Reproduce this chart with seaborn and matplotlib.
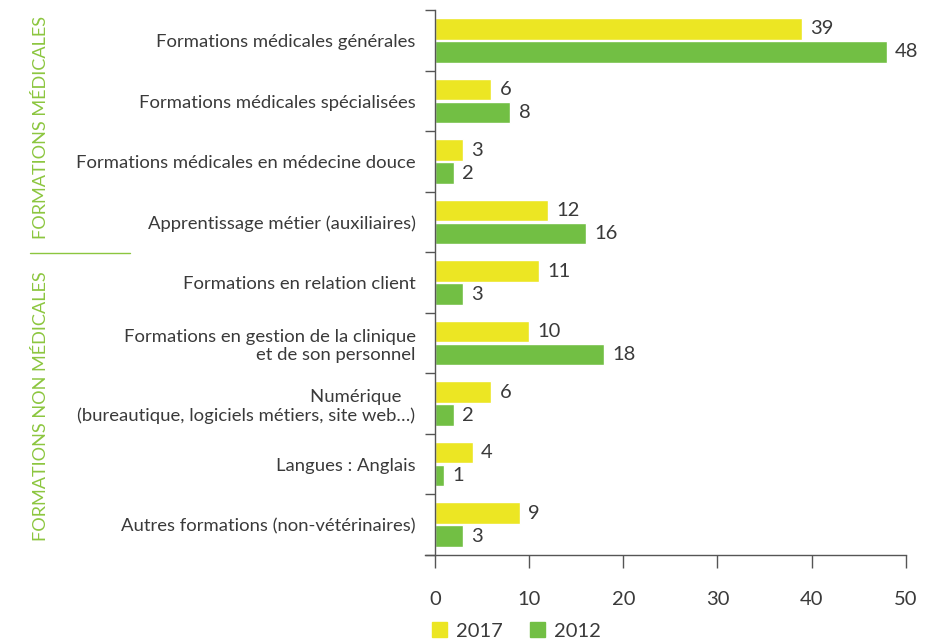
import matplotlib
matplotlib.use("Agg")
import matplotlib.pyplot as plt
import matplotlib.patches as mpatches
import matplotlib.lines as mlines
import seaborn as sns
import pandas as pd

categories = [
    "Formations médicales générales",
    "Formations médicales spécialisées",
    "Formations médicales en médecine douce",
    "Apprentissage métier (auxiliaires)",
    "Formations en relation client",
    "Formations en gestion de la clinique\net de son personnel",
    "Numérique   \n(bureautique, logiciels métiers, site web…)",
    "Langues : Anglais",
    "Autres formations (non-vétérinaires)",
]
values_2017 = [39, 6, 3, 12, 11, 10, 6, 4, 9]
values_2012 = [48, 8, 2, 16, 3, 18, 2, 1, 3]
years = ["2017", "2012"]
x_ticks = [0, 10, 20, 30, 40, 50]

YELLOW = "#ECE623"
GREEN = "#72BF44"
LABEL_GREEN = "#8CC63F"
TEXT = "#3a3a3a"
AXIS = "#555555"

df = pd.DataFrame({
    "cat": categories * 2,
    "val": values_2017 + values_2012,
    "year": [years[0]] * len(categories) + [years[1]] * len(categories),
})

sns.set_theme(style="white")
plt.rcParams["font.family"] = ["Lato", "DejaVu Sans"]

fig = plt.figure(figsize=(9.26, 6.4), dpi=100)
ax = fig.add_axes([0.459, 0.133, 0.519, 0.851])

sns.barplot(data=df, y="cat", x="val", hue="year", orient="h",
            palette=[YELLOW, GREEN], width=0.76, gap=0.06,
            saturation=1, legend=False, ax=ax)

ax.set_xlim(-1.06, 50)
ax.set_ylim(len(categories) - 0.5, -0.5)
ax.set_xlabel("")
ax.set_ylabel("")

for s in ["top", "right"]:
    ax.spines[s].set_visible(False)
for s in ["left", "bottom"]:
    ax.spines[s].set_color(AXIS)
    ax.spines[s].set_linewidth(1.0)
ax.spines["left"].set_position(("data", 0))

# value labels at the end of each bar
for container in ax.containers:
    ax.bar_label(container, padding=6, fontsize=14.5, color=TEXT)

# x axis
ax.set_xticks(x_ticks)
ax.set_xticklabels([str(t) for t in x_ticks], fontsize=14.5, color=TEXT)
ax.tick_params(axis="x", direction="out", length=9, width=1.0,
               color=AXIS, pad=17, bottom=True)

# y axis: labels at group centres, tick marks at group boundaries
ax.set_yticks(range(len(categories)))
ax.set_yticklabels(categories, fontsize=13.3, color=TEXT, ha="right",
                   multialignment="right")
ax.tick_params(axis="y", which="major", length=0, pad=14)
ax.set_yticks([i - 0.5 for i in range(len(categories) + 1)], minor=True)
ax.tick_params(axis="y", which="minor", direction="out", length=7.5,
               width=1.0, color=AXIS, left=True)

# section labels on the far left
fig.text(0.044, 1 - 127 / 640, "FORMATIONS MÉDICALES", rotation=90,
         ha="center", va="center", fontsize=13.1, color=LABEL_GREEN)
fig.text(0.044, 1 - 406 / 640, "FORMATIONS NON MÉDICALES", rotation=90,
         ha="center", va="center", fontsize=13.1, color=LABEL_GREEN)
fig.add_artist(mlines.Line2D([30 / 926, 130 / 926], [1 - 253 / 640, 1 - 253 / 640],
                             color=LABEL_GREEN, lw=1.0))

# legend
handles = [mpatches.Patch(color=YELLOW, label=years[0]),
           mpatches.Patch(color=GREEN, label=years[1])]
leg = fig.legend(handles=handles, loc="lower left",
                 bbox_to_anchor=(414 / 926, -0.028), ncol=2, frameon=False,
                 fontsize=14.5, handlelength=0.75, handleheight=0.75,
                 handletextpad=0.45, columnspacing=1.35)
for t in leg.get_texts():
    t.set_color(TEXT)

fig.savefig("out.png", dpi=100)
